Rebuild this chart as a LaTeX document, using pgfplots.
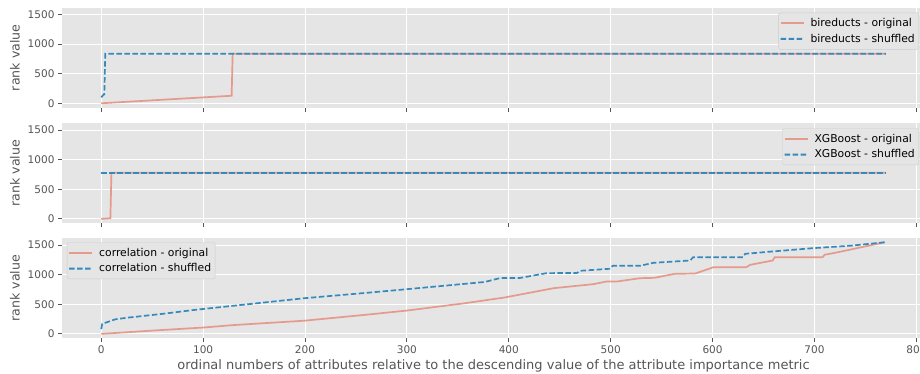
\documentclass[border=0pt]{standalone}
\usepackage{pgfplots}
\pgfplotsset{compat=1.18}
\usepackage{fontspec}
\setmainfont{DejaVu Sans}
\definecolor{bg}{HTML}{E5E5E5}
\definecolor{orig}{HTML}{E49A8D}
\definecolor{shuf}{HTML}{348ABD}
\definecolor{tickc}{HTML}{555555}
\definecolor{legedge}{HTML}{CCCCCC}
\pgfplotsset{
  panel/.style={
    scale only axis, width=863pt, height=100pt,
    xmin=-38.5, xmax=808.5, ymin=-75, ymax=1615,
    xtick={0,100,...,800}, ytick={0,500,1000,1500},
    axis background/.style={fill=bg},
    axis line style={draw=none},
    grid=major, major grid style={white, line width=0.9pt},
    tick align=outside, xtick pos=left, ytick pos=left,
    major tick length=4pt, every tick/.style={tickc, line width=0.8pt},
    tick label style={font=\fontsize{10.5}{12}\selectfont, text=tickc},
    /pgf/number format/assume math mode=true,
    /pgf/number format/1000 sep={},
    ylabel={rank value},
    every axis y label/.style={at={(axis description cs:0,0.5)}, xshift=-47pt, rotate=90, anchor=center,
      font=\fontsize{12.6}{14}\selectfont, text=tickc},
    legend cell align=left,
    legend style={fill=bg, draw=legedge, rounded corners=2pt,
      font=\fontsize{10.8}{12}\selectfont, inner xsep=2pt, inner ysep=3.5pt, row sep=2pt,
      nodes={inner sep=2pt},
      /tikz/every odd column/.append style={column sep=5pt}},
    ostyle/.style={color=orig, line width=1.7pt,
      legend image code/.code={\path[fill=orig, draw=none, sharp corners] (0pt,-1pt) rectangle (23pt,1pt);}},
    sstyle/.style={color=shuf, line width=1.7pt, dash pattern=on 5.5pt off 2.5pt,
      legend image code/.code={\path[fill=shuf, draw=none, sharp corners] (0pt,-1pt) rectangle (5.5pt,1pt)
        (8pt,-1pt) rectangle (13.5pt,1pt) (16pt,-1pt) rectangle (21.5pt,1pt);}},
  }
}
\begin{document}
\begin{tikzpicture}
\path[use as bounding box] (0pt,0pt) rectangle (920pt,373pt);
\clip (0pt,0pt) rectangle (920pt,373pt);
% Panel 1: bireducts
\begin{axis}[panel, at={(62pt,265.3pt)}, anchor=south west, xticklabels={},
  legend style={at={(1,1)}, anchor=north east, xshift=-6pt, yshift=-5pt}]
\addplot[ostyle] coordinates {(0,0) (128,127) (129,838) (770,838)};
\addlegendentry{bireducts - original}
\addplot[sstyle] coordinates {(0,100) (2,140) (3,150) (4,838) (770,838)};
\addlegendentry{bireducts - shuffled}
\end{axis}
% Panel 2: XGBoost
\begin{axis}[panel, at={(62pt,149.7pt)}, anchor=south west, xticklabels={},
  legend style={at={(1,1)}, anchor=north east, xshift=-6pt, yshift=-5pt}]
\addplot[ostyle] coordinates {(0,0) (9,10) (10,779) (770,779)};
\addlegendentry{XGBoost - original}
\addplot[sstyle] coordinates {(0,779) (770,779)};
\addlegendentry{XGBoost - shuffled}
\end{axis}
% Panel 3: correlation
\begin{axis}[panel, at={(62pt,34.7pt)}, anchor=south west,
  xlabel={ordinal numbers of attributes relative to the descending value of the attribute importance metric},
  every axis x label/.style={at={(axis description cs:0.5,0)}, yshift=-31pt, anchor=base,
      font=\fontsize{13}{15}\selectfont, text=tickc},
  legend style={at={(0,1)}, anchor=north west, xshift=5pt, yshift=-4pt}]
\addplot[ostyle] coordinates {
(0,0) (50,55) (100,107) (131,150) (199,222) (264,330) (300,394) (357,518)
(396,615) (444,772) (483,840) (496,885) (506,885) (529,941) (543,947)
(563,1015) (583,1020) (601,1127) (633,1127) (637,1167) (659,1240) (661,1296)
(708,1296) (710,1337) (722,1376) (769,1548)};
\addlegendentry{correlation - original}
\addplot[sstyle] coordinates {
(0,80) (1,169) (14,247) (27,276) (60,338) (92,406) (132,479) (199,602)
(264,699) (300,755) (374,873) (377,880) (392,945) (411,945) (437,1026)
(467,1030) (470,1066) (499,1100) (502,1151) (529,1151) (542,1201) (578,1240)
(581,1296) (630,1296) (632,1353) (659,1393) (699,1449) (735,1489) (769,1548)};
\addlegendentry{correlation - shuffled}
\end{axis}
\end{tikzpicture}
\end{document}
